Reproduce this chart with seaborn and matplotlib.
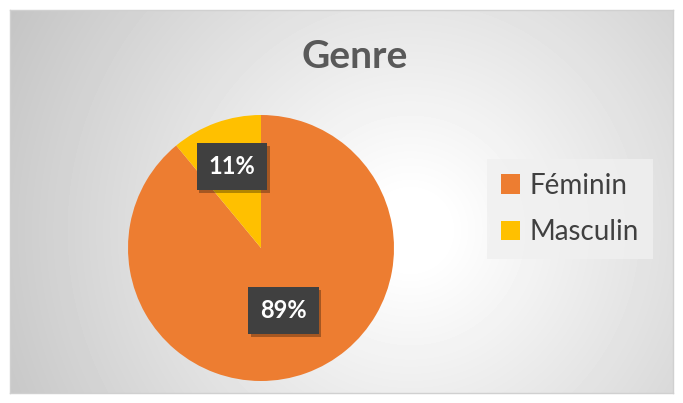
import numpy as np
import seaborn as sns
import matplotlib.pyplot as plt
import matplotlib.patheffects as pe

# data
categories = ["Féminin", "Masculin"]
shares = [89, 11]
colors = ["#ED7D31", "#FFC000"]
label_dist = [0.50, 0.65]   # radial position of each % label

sns.set_style("white")
plt.rcParams["font.family"] = ["Lato", "DejaVu Sans"]

W, H = 683, 403
fig = plt.figure(figsize=(W / 100, H / 100), dpi=100)
fig.patch.set_facecolor("white")

# chart area with radial gradient
bg = fig.add_axes([10 / W, 10 / H, 663 / W, 383 / H])
yy, xx = np.mgrid[0:383, 0:663]
d = np.hypot(xx - 400, yy - 220)
shade = np.clip(1.02 - 0.25 * d / 456, 0, 1)
bg.imshow(shade, cmap="gray", vmin=0, vmax=1, aspect="auto", interpolation="bilinear")
bg.set_xticks([])
bg.set_yticks([])
for s in bg.spines.values():
    s.set_color("#d0d0d0")
    s.set_linewidth(1)

# pie
cx, cy, r = 261, 248, 133
ax = fig.add_axes([(cx - r) / W, (H - cy - r) / H, 2 * r / W, 2 * r / H])
wedges, texts, autotexts = ax.pie(
    shares, colors=colors, startangle=90, counterclock=False,
    autopct="%1.0f%%", pctdistance=0.6, radius=1,
    wedgeprops=dict(linewidth=0),
    textprops=dict(color="white", fontsize=17, fontweight="bold"),
)
ax.set_xlim(-1, 1)
ax.set_ylim(-1, 1)
ax.set_aspect("auto")
ax.axis("off")

for t, w, k in zip(autotexts, wedges, label_dist):
    ang = np.deg2rad((w.theta1 + w.theta2) / 2)
    t.set_position((k * np.cos(ang), k * np.sin(ang)))
    t.set_bbox(dict(boxstyle="square,pad=0.5", facecolor="#404040", edgecolor="none"))
    t.get_bbox_patch().set_path_effects(
        [pe.withSimplePatchShadow(offset=(2, -2), shadow_rgbFace="black", alpha=0.3), pe.Normal()]
    )

fig.text(355 / W, 1 - 57 / H, "Genre", ha="center", va="center",
         fontsize=28, fontweight="bold", color="#595959")

leg = fig.legend(wedges, categories, loc="center",
                 bbox_to_anchor=(570 / W, 1 - 209 / H),
                 fontsize=20, frameon=True, handlelength=0.7, handleheight=0.7,
                 handletextpad=0.35, labelspacing=0.75, borderpad=0.5, fancybox=False)
leg.get_frame().set_facecolor("#f0f0f0")
leg.get_frame().set_edgecolor("none")
for txt in leg.get_texts():
    txt.set_color("#404040")

fig.savefig("out.png", dpi=100)
